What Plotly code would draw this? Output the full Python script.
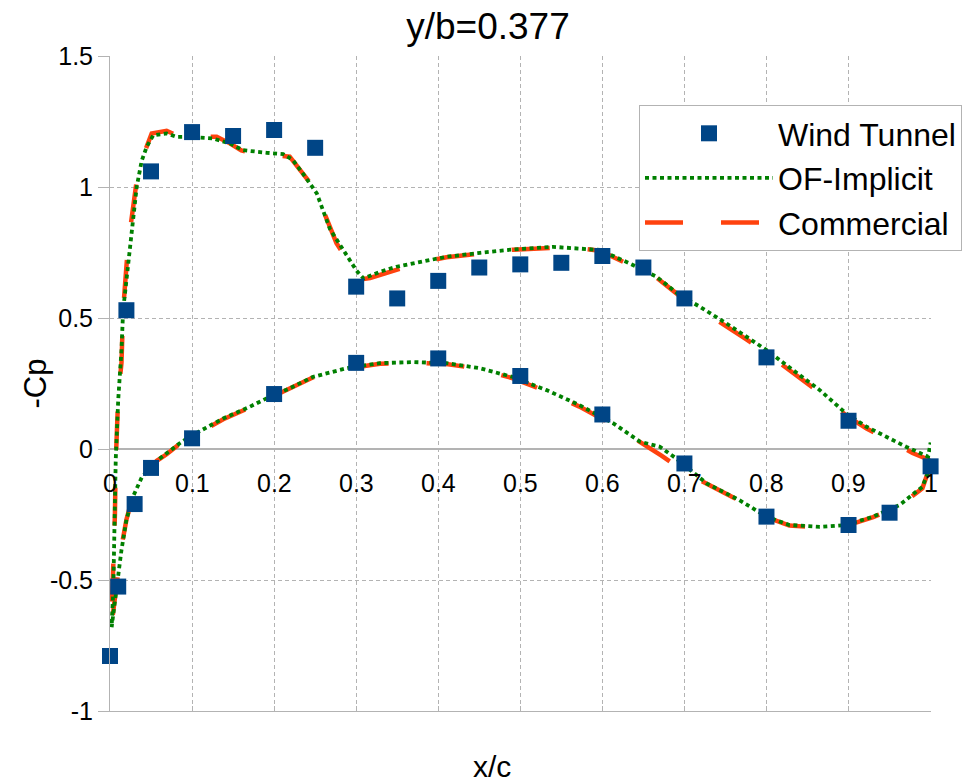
import plotly.graph_objects as go

# ---- Wind tunnel measurements (x/c, -Cp) ----
wt_upper_x = [0.0, 0.02, 0.05, 0.10, 0.15, 0.20, 0.25, 0.30, 0.35, 0.40, 0.45, 0.50,
              0.55, 0.60, 0.65, 0.70, 0.80, 0.90, 1.00]
wt_upper_cp = [-0.79, 0.53, 1.06, 1.21, 1.195, 1.218, 1.15, 0.62, 0.575, 0.642, 0.693, 0.705,
               0.711, 0.737, 0.693, 0.575, 0.35, 0.108, -0.066]
wt_lower_x = [0.01, 0.03, 0.05, 0.10, 0.20, 0.30, 0.40, 0.50, 0.60, 0.70, 0.80, 0.90, 0.95]
wt_lower_cp = [-0.525, -0.21, -0.072, 0.041, 0.21, 0.329, 0.346, 0.279, 0.132, -0.055,
               -0.258, -0.29, -0.243]

# ---- OF-Implicit solution, upper and lower surface from leading edge ----
of_upper_x = [0.002, 0.004, 0.005, 0.006, 0.007, 0.010, 0.014, 0.016, 0.020, 0.024, 0.028,
              0.0325, 0.0386, 0.0447, 0.0527, 0.069, 0.081, 0.097, 0.125, 0.146, 0.162,
              0.175, 0.191, 0.211, 0.223, 0.235, 0.252, 0.268, 0.288, 0.300, 0.309, 0.329,
              0.349, 0.378, 0.41, 0.451, 0.491, 0.54, 0.572, 0.597, 0.633, 0.666, 0.694,
              0.719, 0.751, 0.776, 0.80, 0.832, 0.865, 0.897, 0.922, 0.946, 0.97, 0.997, 1.0]
of_upper_cp = [-0.68, -0.54, -0.41, -0.22, -0.04, 0.187, 0.378, 0.53, 0.645, 0.77, 0.887,
               1.0, 1.10, 1.154, 1.198, 1.205, 1.192, 1.192, 1.186, 1.167, 1.141,
               1.135, 1.131, 1.126, 1.103, 1.052, 0.976, 0.84, 0.74, 0.683, 0.651, 0.677,
               0.696, 0.715, 0.734, 0.749, 0.762, 0.772, 0.766, 0.76, 0.709, 0.658, 0.588,
               0.543, 0.48, 0.429, 0.378, 0.302, 0.225, 0.136, 0.085, 0.047, 0.009, -0.029, 0.025]
of_lower_x = [0.002, 0.006, 0.009, 0.014, 0.020, 0.028, 0.039, 0.049, 0.057, 0.069, 0.085,
              0.097, 0.138, 0.17, 0.195, 0.219, 0.247, 0.289, 0.329, 0.369, 0.41, 0.45,
              0.491, 0.532, 0.572, 0.613, 0.646, 0.67, 0.69, 0.727, 0.767, 0.80, 0.828,
              0.865, 0.897, 0.93, 0.962, 0.99, 1.0]
of_lower_cp = [-0.68, -0.576, -0.50, -0.385, -0.27, -0.182, -0.106, -0.074, -0.045, -0.017,
               0.022, 0.047, 0.117, 0.161, 0.2, 0.232, 0.275, 0.309, 0.328, 0.332, 0.328,
               0.309, 0.275, 0.225, 0.168, 0.099, 0.028, 0.009, -0.036, -0.131, -0.195,
               -0.258, -0.29, -0.297, -0.29, -0.258, -0.214, -0.144, -0.065]

# ---- Commercial solver, upper and lower surface from leading edge ----
cm_upper_x = [0.0015, 0.003, 0.005, 0.006, 0.007, 0.010, 0.014, 0.016, 0.022, 0.028, 0.0345,
              0.0508, 0.069, 0.081, 0.097, 0.13, 0.146, 0.16, 0.175, 0.191, 0.219, 0.246,
              0.26, 0.276, 0.284, 0.30, 0.306, 0.317, 0.361, 0.378, 0.41, 0.451, 0.491,
              0.54, 0.572, 0.597, 0.633, 0.666, 0.694, 0.719, 0.751, 0.776, 0.80, 0.832,
              0.865, 0.897, 0.922, 0.946, 0.978, 0.997, 1.0]
cm_upper_cp = [-0.68, -0.54, -0.385, -0.25, -0.05, 0.2, 0.33, 0.53, 0.78, 0.918, 1.07,
               1.205, 1.215, 1.198, 1.193, 1.192, 1.167, 1.14, 1.128, 1.124, 1.116, 1.008,
               0.91, 0.786, 0.747, 0.67, 0.648, 0.653, 0.696, 0.712, 0.732, 0.748, 0.761,
               0.768, 0.766, 0.757, 0.706, 0.655, 0.585, 0.535, 0.47, 0.418, 0.366, 0.29,
               0.215, 0.128, 0.078, 0.04, -0.015, -0.04, -0.048]
cm_lower_x = [0.0015, 0.006, 0.010, 0.013, 0.020, 0.026, 0.035, 0.049, 0.057, 0.069, 0.085,
              0.097, 0.138, 0.17, 0.195, 0.219, 0.247, 0.289, 0.329, 0.369, 0.41, 0.45,
              0.491, 0.532, 0.572, 0.613, 0.645, 0.672, 0.706, 0.727, 0.767, 0.80, 0.828,
              0.865, 0.897, 0.93, 0.962, 0.99, 1.0]
cm_lower_cp = [-0.68, -0.56, -0.47, -0.39, -0.27, -0.2, -0.15, -0.07, -0.045, -0.02,
               0.02, 0.045, 0.114, 0.158, 0.197, 0.23, 0.273, 0.307, 0.326, 0.33, 0.325,
               0.306, 0.27, 0.22, 0.162, 0.092, 0.03, -0.025, -0.098, -0.133, -0.197,
               -0.26, -0.292, -0.3, -0.293, -0.26, -0.218, -0.15, -0.06]

x_tick_labels = ["0", "0.1", "0.2", "0.3", "0.4", "0.5", "0.6", "0.7", "0.8", "0.9", "1"]
x_tick_vals = [0.0, 0.1, 0.2, 0.3, 0.4, 0.5, 0.6, 0.7, 0.8, 0.9, 1.0]
y_tick_vals = [-1.0, -0.5, 0.0, 0.5, 1.0, 1.5]
y_tick_labels = ["-1", "-0.5", "0", "0.5", "1", "1.5"]

FONT = "Liberation Sans, Arial, sans-serif"
GRID = "#b3b3b3"

# Each CFD curve is drawn as one loop: lower surface from trailing edge to the
# leading edge, then the upper surface back to the trailing edge.
def loop(lx, ly, ux, uy):
    return list(reversed(lx)) + list(ux[1:]), list(reversed(ly)) + list(uy[1:])

cm_x, cm_y = loop(cm_lower_x, cm_lower_cp, cm_upper_x, cm_upper_cp)
of_x, of_y = loop(of_lower_x, of_lower_cp, of_upper_x, of_upper_cp)

fig = go.Figure()

fig.add_trace(go.Scatter(
    x=cm_x, y=cm_y, mode="lines", name="Commercial", legendrank=3,
    line=dict(color="#ff420e", width=4.5, dash="38px,38px"),
))
fig.add_trace(go.Scatter(
    x=of_x, y=of_y, mode="lines", name="OF-Implicit", legendrank=2,
    line=dict(color="#008000", width=3.8, dash="4px,3.5px"),
))
fig.add_trace(go.Scatter(
    x=wt_upper_x + wt_lower_x, y=wt_upper_cp + wt_lower_cp,
    mode="markers", name="Wind Tunnel", legendrank=1, cliponaxis=False,
    marker=dict(symbol="square", size=16, color="#004586",
                line=dict(width=0)),
))

annotations = []
# x tick labels sit just below the y = 0 axis line
for v, t in zip(x_tick_vals, x_tick_labels):
    annotations.append(dict(
        x=v, y=0, xref="x", yref="y", text=t, showarrow=False,
        yshift=-34, xanchor="center", yanchor="middle",
        font=dict(family=FONT, size=25, color="#000000"),
    ))
annotations.append(dict(
    x=0, y=0.5, xref="paper", yref="paper", text="-Cp", showarrow=False,
    textangle=-90, xshift=-75, xanchor="center", yanchor="middle",
    font=dict(family=FONT, size=31, color="#000000"),
))
annotations.append(dict(
    x=0.4653, y=0, xref="paper", yref="paper", text="x/c", showarrow=False,
    yshift=-55, xanchor="center", yanchor="middle",
    font=dict(family=FONT, size=30, color="#000000"),
))

fig.update_layout(
    width=976, height=784,
    margin=dict(l=110, r=45, t=56, b=73),
    paper_bgcolor="white", plot_bgcolor="white",
    title=dict(text="y/b=0.377", x=0.5, xref="container", xanchor="center",
               y=1 - 26 / 784, yref="container", yanchor="middle",
               font=dict(family=FONT, size=37, color="#000000")),
    font=dict(family=FONT, color="#000000"),
    showlegend=True,
    legend=dict(
        x=(639 - 110) / 821, y=(711 - 105) / 655, xanchor="left", yanchor="top",
        bgcolor="white", bordercolor=GRID, borderwidth=1,
        font=dict(family=FONT, size=32, color="#000000"),
        itemwidth=128, tracegroupgap=0,
    ),
    annotations=annotations,
)

fig.update_xaxes(
    range=[0, 1.0005], tickvals=x_tick_vals, showticklabels=False,
    showgrid=True, gridcolor=GRID, griddash="4px,3px", gridwidth=1,
    ticks="inside", ticklen=5, tickcolor=GRID,
    showline=True, linecolor=GRID, linewidth=1, zeroline=False,
)
fig.update_yaxes(
    range=[-1, 1.5005], tickvals=y_tick_vals, ticktext=y_tick_labels,
    showgrid=True, gridcolor=GRID, griddash="4px,3px", gridwidth=1,
    ticks="outside", ticklen=11, tickcolor=GRID,
    showline=True, linecolor=GRID, linewidth=1,
    zeroline=True, zerolinecolor=GRID, zerolinewidth=1.5,
    tickfont=dict(family=FONT, size=25, color="#000000"),
)

fig.write_html("out.html")
